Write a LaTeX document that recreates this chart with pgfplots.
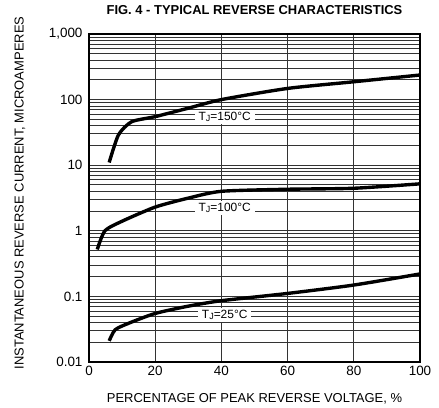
\documentclass[border=0pt]{standalone}
\usepackage{pgfplots}
\pgfplotsset{compat=1.18}
\usepackage{fontspec}
\setmainfont{Liberation Sans}
\newcommand{\TJ}[1]{T\raisebox{-1.2bp}{\fontsize{9}{10}\selectfont J}=#1°C}
\begin{document}
\begin{tikzpicture}
\useasboundingbox (-89bp,-46bp) rectangle (350bp,362bp);
\begin{axis}[
  scale only axis,
  width=331bp, height=328bp,
  at={(0,0)}, anchor=south west,
  ymode=log,
  xmin=0, xmax=100, ymin=0.01, ymax=1000,
  xtick={0,20,40,60,80,100},
  ytick={0.01,0.1,1,10,100,1000},
  yticklabels={0.01,0.1,1,10,100,{1,000}},
  /pgf/number format/assume math mode=true,
  ticklabel style={font=\fontsize{13.5}{15}\selectfont},
  yticklabel style={xshift=-3bp},
  xticklabel style={yshift=-1bp},
  major tick length=0pt, minor tick length=0pt,
  xmajorgrids, ymajorgrids, yminorgrids,
  grid style={black!80, line width=0.9pt},
  minor grid style={black!80, line width=0.9pt},
  axis line style={black, line width=1.2pt},
  xlabel={PERCENTAGE OF PEAK REVERSE VOLTAGE, \%},
  ylabel={INSTANTANEOUS REVERSE CURRENT, MICROAMPERES},
  label style={font=\fontsize{13}{15}\selectfont},
  xlabel style={at={(axis description cs:0.5,0)}, anchor=center, yshift=-37bp},
  ylabel style={at={(axis description cs:0,0.515)}, anchor=center, yshift=69bp},
  title={\textbf{FIG. 4 - TYPICAL REVERSE CHARACTERISTICS}},
  title style={font=\fontsize{13}{15}\selectfont, at={(axis description cs:0.5,1)}, anchor=center, yshift=18bp},
  clip=false,
]
\addplot[black, line width=3.4pt, smooth, tension=0.4] coordinates {
  (6.1,11) (8.9,29) (12.9,46) (20,55) (30,74) (40,100) (60,148) (80,187) (100,237)};
\addplot[black, line width=3.4pt, smooth, tension=0.4] coordinates {
  (2.5,0.52) (4.8,1.0) (10,1.4) (20,2.3) (30,3.15) (40,4.0) (60,4.3) (80,4.45) (100,5.2)};
\addplot[black, line width=3.4pt, smooth, tension=0.4] coordinates {
  (6.1,0.021) (7.9,0.031) (12,0.039) (20,0.055) (30,0.071) (40,0.086) (60,0.111) (80,0.149) (100,0.22)};
\node[fill=white, inner xsep=4bp, inner ysep=2bp, font=\fontsize{12}{13}\selectfont] at (axis cs:41,54) {\TJ{150}};
\node[fill=white, inner xsep=4bp, inner ysep=2bp, font=\fontsize{12}{13}\selectfont] at (axis cs:41,2.25) {\TJ{100}};
\node[fill=white, inner xsep=4bp, inner ysep=2bp, font=\fontsize{12}{13}\selectfont] at (axis cs:41,0.052) {\TJ{25}};
\end{axis}
\end{tikzpicture}
\end{document}
